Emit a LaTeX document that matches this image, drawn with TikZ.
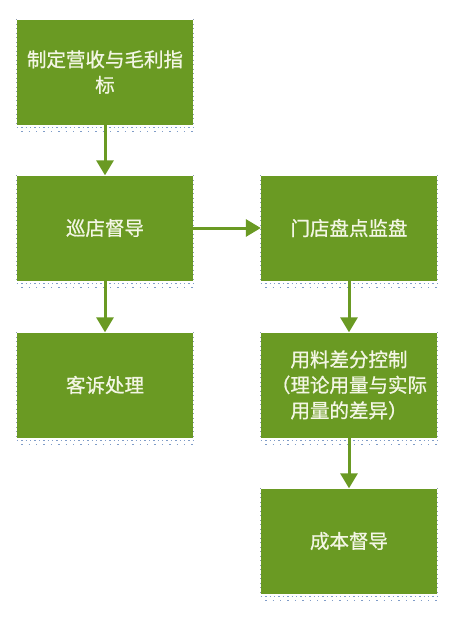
\documentclass[tikz,border=0pt]{standalone}
\usepackage{fontspec}
\newfontfamily\cjk{Noto Sans CJK SC}[UprightFeatures={FakeBold=0.8}]
\usetikzlibrary{arrows.meta}
\definecolor{boxgreen}{HTML}{6A9A23}
\definecolor{boxtext}{HTML}{F3F6E4}
\definecolor{dotblue}{HTML}{7F9CC8}
\definecolor{dotgray}{HTML}{8F9CB0}
\tikzset{
  procbox/.style={fill=boxgreen, draw=none, minimum width=176pt, minimum height=105pt,
    inner sep=0pt, text=boxtext, align=center,
    font=\cjk\fontsize{19.5}{25.5}\selectfont},
  flowarrow/.style={draw=boxgreen, line width=3pt, -{Triangle[length=15pt,width=17pt]}},
  sidedots/.style={draw=dotgray, line width=1pt, dash pattern=on 1pt off 3.5pt},
  banddots/.style={draw=dotblue, line width=1.4pt, dash pattern=on 1.4pt off 3pt},
  banddotsb/.style={draw=dotblue, line width=1.4pt, dash pattern=on 1.4pt off 6pt},
}
\begin{document}
\begin{tikzpicture}[x=1pt,y=1pt]
\useasboundingbox (0,0) rectangle (458,-624);
\node[procbox] (a) at (105,-72) {制定营收与毛利指\\标};
\node[procbox] (b) at (105,-228) {巡店督导};
\node[procbox] (c) at (105,-385) {客诉处理};
\node[procbox] (d) at (349,-228) {门店盘点监盘};
\node[procbox] (e) at (349,-385) {用料差分控制\\（理论用量与实际\\用量的差异）};
\node[procbox] (f) at (349,-541) {成本督导};
\foreach \n in {a,b,c,d,e,f}{
  \draw[sidedots] ([xshift=-0.5pt]\n.north west) -- ([xshift=-0.5pt]\n.south west);
  \draw[sidedots] ([xshift=0.5pt]\n.north east) -- ([xshift=0.5pt]\n.south east);
  \draw[banddots] ([yshift=-2.5pt]\n.south west) -- ([yshift=-2.5pt]\n.south east);
  \draw[banddotsb, dash phase=3pt] ([yshift=-6.5pt]\n.south west) -- ([yshift=-6.5pt]\n.south east);
}
\draw[flowarrow] (a) -- (b);
\draw[flowarrow] (b) -- (c);
\draw[flowarrow] (b) -- (d);
\draw[flowarrow] (d) -- (e);
\draw[flowarrow] (e) -- (f);
\end{tikzpicture}
\end{document}
